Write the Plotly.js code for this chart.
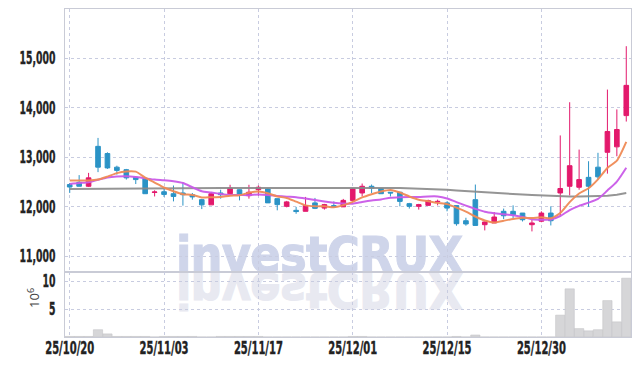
<!DOCTYPE html>
<html>
<head>
<meta charset="utf-8">
<script src="https://cdn.plot.ly/plotly-3.0.1.min.js"></script>
<style>
  html, body { margin: 0; padding: 0; background: #ffffff; }
  #wrap { position: relative; width: 639px; height: 366px; }
  #chart { position: absolute; left: 0; top: 0; width: 639px; height: 366px; z-index: 2; }
  .wm { position: absolute; left: 176px; top: 230px; z-index: 1; font-family: 'DejaVu Sans', sans-serif;
        font-stretch: condensed; font-weight: bold; font-size: 50px; line-height: 50px; white-space: nowrap;
        letter-spacing: -0.8px; }
  #wm1 { color: #cfd5ea; -webkit-text-stroke: 1px #cfd5ea; }
  #wm2 { color: #e8e9f1; -webkit-text-stroke: 1px #e8e9f1; transform-origin: 0 42.5px; transform: scaleY(-1); }
  #chart .xtick text, #chart .x2tick text, #chart .ytick text, #chart .y2tick text {
    font-family: 'Liberation Sans Narrow', 'Arial Narrow', 'DejaVu Sans Condensed', sans-serif !important;
    font-weight: 700 !important; font-stretch: condensed !important;
    stroke: #222222; stroke-width: 0.35px; }
</style>
</head>
<body>
<div id="wrap">
  <div class="wm" id="wm2">investCRUX</div>
  <div class="wm" id="wm1">investCRUX</div>
  <div id="chart"></div>
</div>
<script>
const dates = ["25/10/20","25/10/21","25/10/22","25/10/23","25/10/24","25/10/27","25/10/28","25/10/29","25/10/30","25/10/31",
  "25/11/03","25/11/04","25/11/05","25/11/06","25/11/07","25/11/10","25/11/11","25/11/12","25/11/13","25/11/14",
  "25/11/17","25/11/18","25/11/19","25/11/20","25/11/21","25/11/24","25/11/25","25/11/26","25/11/27","25/11/28",
  "25/12/01","25/12/02","25/12/03","25/12/04","25/12/05","25/12/08","25/12/09","25/12/10","25/12/11","25/12/12",
  "25/12/15","25/12/16","25/12/17","25/12/18","25/12/19","25/12/22","25/12/23","25/12/24","25/12/26","25/12/29",
  "25/12/30","26/01/02","26/01/05","26/01/06","26/01/07","26/01/08","26/01/09","26/01/12","26/01/13","26/01/14"];

const openP = [12450,12495,12415,13220,13075,12800,12750,12595,12565,12290,
  12305,12265,12280,12245,12145,12040,12280,12265,12345,12225,
  12345,12360,12165,12010,11930,11910,12080,11975,12025,12000,
  12130,12280,12415,12370,12295,12295,12065,12010,12030,12100,
  12080,12025,11720,12145,11640,11675,11910,11910,11875,11640,
  11710,11875,12280,12415,12395,12595,12800,13100,13210,13840];
const highP = [12480,12640,12685,13390,13100,12830,12765,12615,12570,12335,
  12380,12430,12495,12280,12160,12295,12345,12445,12350,12445,
  12430,12380,12170,12120,12000,12200,12180,12060,12110,12160,
  12380,12470,12450,12380,12295,12295,12080,12060,12145,12145,
  12110,12025,11780,12450,11705,11895,11965,12030,11875,11740,
  11910,12010,13440,14110,13155,12920,13090,14365,13965,15240];
const lowP = [12280,12410,12400,12700,12765,12650,12550,12460,12260,12210,
  12200,12110,12025,12145,11955,12040,12165,12245,12130,12165,
  12225,12080,11930,11990,11860,11910,11955,11945,11990,12000,
  12130,12210,12280,12265,12210,12010,11965,11945,12030,12030,
  11910,11620,11620,11625,11525,11675,11755,11775,11705,11505,
  11690,11625,11830,12230,12345,12000,12550,12670,13020,13720];
const closeP = [12400,12415,12585,12800,12785,12735,12585,12550,12265,12300,
  12250,12210,12245,12200,12040,12265,12245,12380,12230,12295,
  12395,12080,12045,12100,11905,12025,11970,12045,12000,12130,
  12360,12415,12375,12265,12280,12110,12010,12045,12125,12110,
  11975,11660,11655,11625,11695,11795,11820,11840,11740,11675,
  11875,11720,12370,12830,12550,12415,12605,13520,13560,14450];

const ma5 = [12530,12530,12530,12550,12610,12680,12715,12710,12590,12490,
  12390,12315,12255,12240,12190,12195,12200,12225,12235,12285,
  12310,12275,12210,12180,12105,12030,12010,12010,11990,12035,
  12100,12190,12255,12310,12340,12290,12210,12145,12115,12080,
  12055,11985,11905,11805,11725,11685,11720,11755,11780,11775,
  11790,11770,11875,12095,12270,12375,12555,12785,12930,13310];
const ma10 = [12460,12480,12495,12545,12590,12610,12615,12600,12575,12550,
  12535,12515,12480,12395,12315,12290,12260,12240,12240,12235,
  12250,12240,12220,12205,12195,12170,12140,12110,12085,12070,
  12065,12100,12130,12150,12185,12195,12200,12200,12210,12210,
  12170,12095,12025,11960,11900,11870,11850,11830,11795,11750,
  11740,11745,11815,11935,12020,12085,12160,12330,12510,12790];
const ma60 = [12360,12362,12364,12366,12368,12370,12372,12374,12375,12375,
  12376,12376,12376,12377,12377,12378,12378,12379,12380,12380,
  12380,12380,12380,12379,12378,12377,12376,12376,12376,12377,
  12378,12380,12382,12382,12381,12380,12376,12370,12362,12354,
  12345,12332,12318,12303,12290,12278,12268,12258,12248,12238,
  12228,12220,12214,12210,12209,12210,12214,12225,12245,12280];
const volume = [0.1,0.1,0.1,1.3,0.55,0.1,0.1,0.1,0.1,0,
  0.1,0.1,0.1,0.1,0,0,0.1,0.1,0.1,0.1,
  0.1,0,0,0,0,0,0,0,0,0,
  0.1,0.1,0,0,0,0,0,0,0,0,
  0,0.1,0,0.35,0,0,0,0,0,0,
  0,0,3.9,8.6,1.5,1.1,1.3,6.5,2.7,10.5];

const tickDates = [dates[0], dates[10], dates[20], dates[30], dates[40], dates[50]];
const priceTicks = [11000, 12000, 13000, 14000, 15000];
const volumeTicks = [5, 10];
const volumeUnit = '10<sup>6</sup>';

const upColor = '#e3196c';
const downColor = '#2b93c6';
const gridColor = '#c8cce0';
const lineColor = '#c9cbd6';
const tickFont = {family: 'Liberation Sans Narrow, Arial Narrow, DejaVu Sans Condensed, sans-serif', size: 17, color: '#222222', weight: 700};

const traces = [
  {type: 'scatter', mode: 'lines', x: dates, y: ma60, xaxis: 'x', yaxis: 'y',
   line: {color: '#8a8a8a', width: 2}, opacity: 0.9, hoverinfo: 'skip'},
  {type: 'scatter', mode: 'lines', x: dates, y: ma10, xaxis: 'x', yaxis: 'y',
   line: {color: '#c95ae8', width: 2, shape: 'spline', smoothing: 0.6}, opacity: 0.95, hoverinfo: 'skip'},
  {type: 'scatter', mode: 'lines', x: dates, y: ma5, xaxis: 'x', yaxis: 'y',
   line: {color: '#ef8a55', width: 2, shape: 'spline', smoothing: 0.6}, opacity: 0.95, hoverinfo: 'skip'},
  {type: 'candlestick', x: dates, open: openP, high: highP, low: lowP, close: closeP,
   xaxis: 'x', yaxis: 'y', whiskerwidth: 0,
   increasing: {line: {color: upColor, width: 1}, fillcolor: upColor},
   decreasing: {line: {color: downColor, width: 1}, fillcolor: downColor}},
  {type: 'bar', x: dates, y: volume, xaxis: 'x2', yaxis: 'y2',
   marker: {color: '#d6d6d8', line: {color: '#c4c4c8', width: 0.6}}}
];

const layout = {
  width: 639, height: 366,
  margin: {l: 65, r: 8, t: 9, b: 29},
  paper_bgcolor: 'rgba(0,0,0,0)', plot_bgcolor: 'rgba(0,0,0,0)',
  showlegend: false,
  boxgap: 0.3,
  bargap: 0.02,
  xaxis: {type: 'category', domain: [0, 1], anchor: 'y', matches: 'x2',
    range: [-0.5, 59.5], rangeslider: {visible: false},
    tickmode: 'array', tickvals: tickDates, showticklabels: false, ticks: '',
    showgrid: true, gridcolor: gridColor, griddash: 'dot', gridwidth: 1,
    showline: true, mirror: true, linecolor: lineColor, linewidth: 1, zeroline: false},
  yaxis: {domain: [0.198, 1], anchor: 'x', range: [10685, 15990],
    tickmode: 'array', tickvals: priceTicks, tickformat: ',d',
    tickfont: tickFont, ticks: '', ticklabelstandoff: 5,
    showgrid: true, gridcolor: gridColor, griddash: 'dot', gridwidth: 1,
    showline: true, mirror: true, linecolor: lineColor, linewidth: 1, zeroline: false},
  xaxis2: {type: 'category', domain: [0, 1], anchor: 'y2',
    range: [-0.5, 59.5],
    tickmode: 'array', tickvals: tickDates, ticktext: tickDates, tickfont: tickFont, ticks: '',
    showgrid: true, gridcolor: gridColor, griddash: 'dot', gridwidth: 1,
    showline: true, mirror: true, linecolor: lineColor, linewidth: 1, zeroline: false},
  yaxis2: {domain: [0, 0.198], anchor: 'x2', range: [0, 11.6],
    tickmode: 'array', tickvals: volumeTicks, tickfont: tickFont, ticks: '', ticklabelstandoff: 5,
    showgrid: true, gridcolor: gridColor, griddash: 'dot', gridwidth: 1,
    showline: true, mirror: true, linecolor: lineColor, linewidth: 1, zeroline: false},
  annotations: [
    {text: volumeUnit, xref: 'paper', yref: 'paper', x: -0.056, y: 0.12, xanchor: 'center', yanchor: 'middle',
     textangle: -90, showarrow: false, font: {family: 'Noto Sans, sans-serif', size: 13, color: '#444444'}}
  ]
};

Plotly.newPlot('chart', traces, layout, {displayModeBar: false, staticPlot: true}).then(function (gd) {
  // condense tick labels horizontally to mimic the narrow reference font
  function condense(selector, sample, target) {
    const texts = gd.querySelectorAll(selector);
    let ref = 0;
    texts.forEach(function (t) { if (t.textContent === sample) ref = t.getComputedTextLength(); });
    const f = ref > 0 ? Math.min(1, target / ref) : 0.85;
    texts.forEach(function (t) {
      const L = t.getComputedTextLength();
      if (L > 0) {
        t.setAttribute('textLength', (L * f).toFixed(2));
        t.setAttribute('lengthAdjust', 'spacingAndGlyphs');
      }
    });
  }
  condense('.ytick text, .y2tick text', '15,000', 36);
  condense('.x2tick text', '25/10/20', 49);
  gd.querySelectorAll('.x2tick text').forEach(function (t) {
    const y = parseFloat(t.getAttribute('y') || '0');
    t.setAttribute('y', (y - 4).toFixed(2));
  });
});
</script>
</body>
</html>
